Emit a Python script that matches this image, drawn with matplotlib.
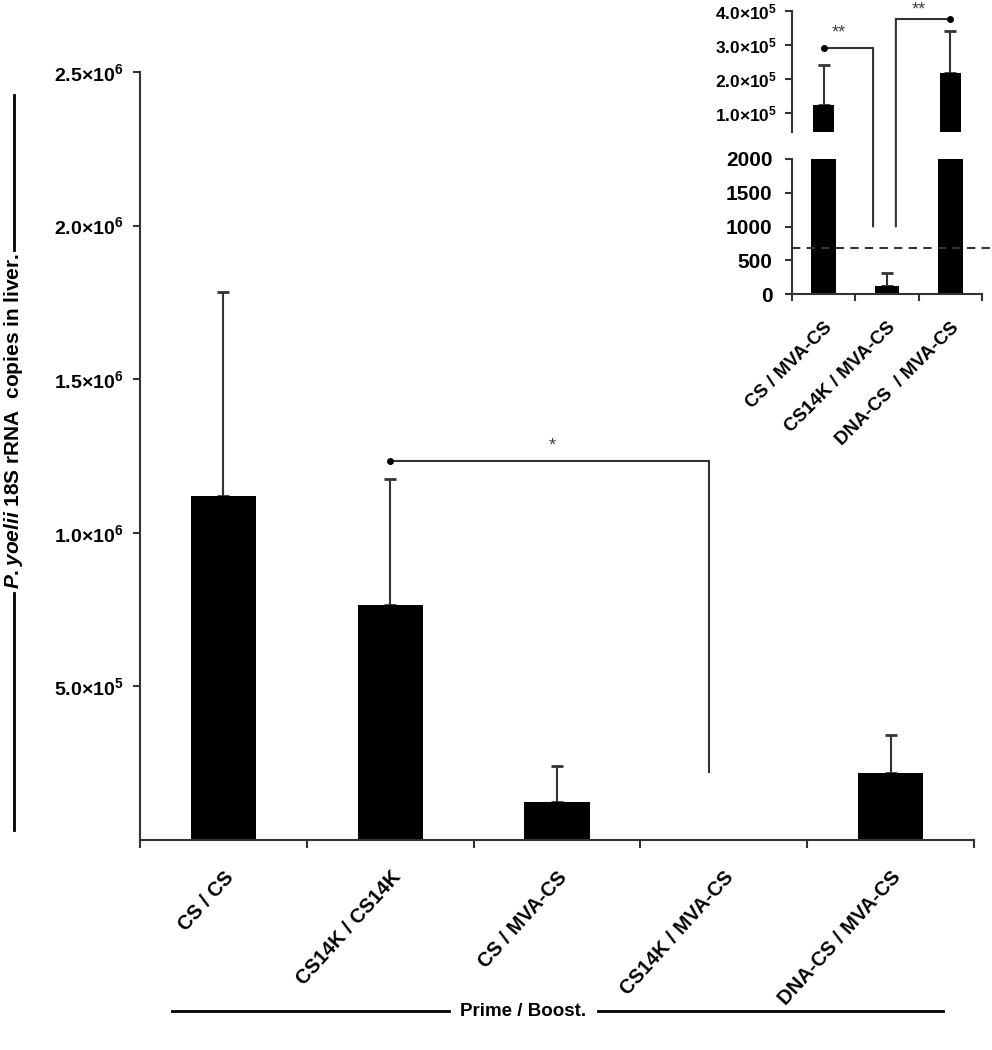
import numpy as np
import matplotlib
matplotlib.use("Agg")
import matplotlib.pyplot as plt
import matplotlib.transforms as mtransforms
from matplotlib.lines import Line2D
from matplotlib.patches import ConnectionPatch

plt.rcParams['font.family'] = ['Liberation Sans', 'DejaVu Sans']
plt.rcParams['font.weight'] = 'bold'
plt.rcParams['mathtext.fontset'] = 'custom'
plt.rcParams['mathtext.rm'] = 'Liberation Sans:bold'
plt.rcParams['mathtext.it'] = 'Liberation Sans:bold:italic'
plt.rcParams['mathtext.default'] = 'rm'

# main panel data
groups = ['CS / CS', 'CS14K / CS14K', 'CS / MVA-CS', 'CS14K / MVA-CS', 'DNA-CS / MVA-CS']
copies = [1.12e6, 7.65e5, 1.24e5, 120, 2.17e5]
sem = [6.64e5, 4.1e5, 1.18e5, 190, 1.25e5]
main_ticks = [5e5, 1e6, 1.5e6, 2e6, 2.5e6]
main_ticklabels = ['5.0×10$^5$', '1.0×10$^6$', '1.5×10$^6$', '2.0×10$^6$', '2.5×10$^6$']

# inset (last three groups, broken axis)
inset_groups = ['CS / MVA-CS', 'CS14K / MVA-CS', 'DNA-CS  / MVA-CS']
inset_copies = copies[2:]
inset_sem = sem[2:]
low_ticks = [0, 500, 1000, 1500, 2000]
high_ticks = [1e5, 2e5, 3e5, 4e5]
high_ticklabels = ['1.0×10$^5$', '2.0×10$^5$', '3.0×10$^5$', '4.0×10$^5$']
detection_limit = 680

EDGE = '#333333'

fig = plt.figure(figsize=(9.92, 10.5), dpi=100)
W, H = 992.0, 1050.0


def style_axes(a, left_only=False):
    a.spines['top'].set_visible(False)
    a.spines['right'].set_visible(False)
    for s in ('left', 'bottom'):
        a.spines[s].set_color(EDGE)
        a.spines[s].set_linewidth(1.5)
    a.tick_params(colors=EDGE, width=1.5, length=5, labelcolor='black')
    if left_only:
        a.spines['bottom'].set_visible(False)
        a.tick_params(axis='x', bottom=False, labelbottom=False)


# ---- main axes
ax = fig.add_axes([140 / W, 1 - 840 / H, 834 / W, 768 / H])
x = np.arange(len(groups))
ax.bar(x, copies, width=0.39, color='black', zorder=2)
ax.errorbar(x, copies, yerr=[np.zeros(len(sem)), sem], fmt='none',
            ecolor=EDGE, elinewidth=1.5, capsize=4, capthick=2, zorder=1)
ax.set_xlim(-0.5, 4.5)
ax.set_ylim(0, 2.5e6)
style_axes(ax)
ax.set_yticks(main_ticks)
ax.set_yticklabels(main_ticklabels, fontsize=14)
ax.tick_params(axis='y', pad=7)
ax.set_xticks(x)
ax.set_xticklabels(groups, rotation=48, ha='right', va='top',
                   rotation_mode='anchor', fontsize=14.5)
ax.tick_params(axis='x', which='major', length=0, pad=20)
ax.set_xticks(np.arange(-0.5, 5, 1), minor=True)
ax.tick_params(axis='x', which='minor', length=6, width=1.5, color=EDGE)

# significance bracket, main panel
ax.plot([1, 2.91], [1.234e6, 1.234e6], color=EDGE, lw=1.5)
ax.plot([2.91, 2.91], [1.234e6, 2.2e5], color=EDGE, lw=1.5)
ax.plot(1, 1.234e6, 'o', color='black', ms=4)
ax.text(1.97, 1.255e6, '*', ha='center', va='bottom', fontsize=13,
        fontweight='normal', color='#444444')

# axis titles with rules
fig.text(14 / W, 1 - 421 / H, r'$\it{P.yoelii}$ 18S rRNA  copies in liver.',
         rotation=90, ha='center', va='center', fontsize=15)
fig.add_artist(Line2D([14 / W, 14 / W], [1 - 95 / H, 1 - 250 / H],
                      transform=fig.transFigure, color='black', lw=2))
fig.add_artist(Line2D([14 / W, 14 / W], [1 - 593 / H, 1 - 830 / H],
                      transform=fig.transFigure, color='black', lw=2))

fig.text(523 / W, 1 - 1011 / H, 'Prime / Boost.', ha='center', va='center',
         fontsize=13.5)
fig.add_artist(Line2D([172 / W, 449 / W], [1 - 1011 / H, 1 - 1011 / H],
                      transform=fig.transFigure, color='black', lw=2))
fig.add_artist(Line2D([598 / W, 943 / W], [1 - 1011 / H, 1 - 1011 / H],
                      transform=fig.transFigure, color='black', lw=2))

# ---- inset, broken y axis
axl = fig.add_axes([792 / W, 1 - 294 / H, 190 / W, 135 / H])
axh = fig.add_axes([792 / W, 1 - 132 / H, 190 / W, 121 / H])
xi = np.arange(len(inset_groups))
for a, w in ((axl, 0.39), (axh, 0.34)):
    a.set_facecolor('none')
    a.bar(xi, inset_copies, width=w, color='black', zorder=2)
    a.errorbar(xi, inset_copies, yerr=[np.zeros(len(inset_sem)), inset_sem],
               fmt='none', ecolor=EDGE, elinewidth=1.5, capsize=4,
               capthick=2, zorder=1)
    a.set_xlim(-0.5, 2.5)

axl.set_ylim(0, 2000)
style_axes(axl)
axl.set_yticks(low_ticks)
axl.set_yticklabels([str(t) for t in low_ticks], fontsize=15)
axl.tick_params(axis='y', pad=9)
axl.set_xticks(xi)
axl.set_xticklabels(inset_groups, rotation=45, ha='right', va='top',
                    rotation_mode='anchor', fontsize=13.5)
axl.tick_params(axis='x', which='major', length=0, pad=18)
axl.set_xticks(np.arange(-0.5, 3, 1), minor=True)
axl.tick_params(axis='x', which='minor', length=5, width=1.5, color=EDGE)
axl.axhline(detection_limit, xmin=0, xmax=1.04, clip_on=False, color=EDGE,
            lw=1.5, ls=(0, (4, 3)))

axh.set_ylim(0.44e5, 4e5)
style_axes(axh, left_only=True)
axh.set_yticks(high_ticks)
axh.set_yticklabels(high_ticklabels, fontsize=12.5)
axh.tick_params(axis='y', pad=6)

# inset brackets
axh.plot([0, 0.78], [2.9e5, 2.9e5], color=EDGE, lw=1.5)
axh.plot(0, 2.9e5, 'o', color='black', ms=4)
fig.add_artist(ConnectionPatch((0.78, 2.9e5), (0.78, 1000), 'data', 'data',
                               axesA=axh, axesB=axl, color=EDGE, lw=1.5))
axh.text(0.24, 3.1e5, '**', ha='center', va='bottom', fontsize=13,
         fontweight='normal', color='#444444')

axh.plot([1.14, 2.0], [3.77e5, 3.77e5], color=EDGE, lw=1.5, clip_on=False)
axh.plot(2.0, 3.77e5, 'o', color='black', ms=4, clip_on=False)
fig.add_artist(ConnectionPatch((1.14, 1000), (1.14, 3.77e5), 'data', 'data',
                               axesA=axl, axesB=axh, color=EDGE, lw=1.5))
top_trans = mtransforms.blended_transform_factory(axh.transData, fig.transFigure)
axh.text(1.5, 1 - 1 / H, '**', ha='center', va='top', fontsize=13,
         fontweight='normal', color='#444444', transform=top_trans,
         clip_on=False)

fig.savefig('out.png', dpi=100)
